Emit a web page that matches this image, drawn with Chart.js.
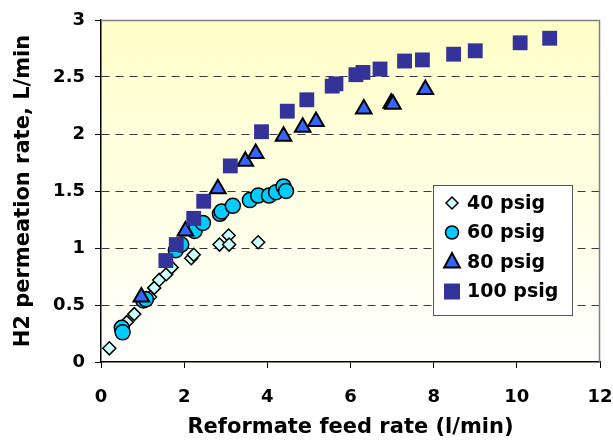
<!DOCTYPE html>
<html lang="en">
<head>
<meta charset="UTF-8">
<title>H2 permeation rate</title>
<script src="https://cdn.jsdelivr.net/npm/chart.js"></script>
<style>
  html, body { margin: 0; padding: 0; background: #fff; }
  #wrap { width: 613px; height: 440px; }
</style>
</head>
<body>
<div id="wrap"><canvas id="grafico" width="613" height="440"></canvas></div>
<script>
// data: [feed rate l/min, permeation L/min]
const seriesNames = ['40 psig', '60 psig', '80 psig', '100 psig'];

const psig40 = [
  [0.20, 0.12], [0.62, 0.35], [0.80, 0.42], [1.10, 0.56], [1.18, 0.57],
  [1.28, 0.65], [1.40, 0.72], [1.57, 0.77], [1.70, 0.83], [2.17, 0.91],
  [2.23, 0.94], [2.85, 1.03], [3.07, 1.11], [3.08, 1.03], [3.78, 1.05]
];
const psig60 = [
  [0.50, 0.30], [0.52, 0.26], [1.02, 0.54], [1.08, 0.55], [1.80, 0.98],
  [1.93, 1.03], [2.25, 1.15], [2.45, 1.22], [2.86, 1.30], [2.90, 1.32],
  [3.17, 1.37], [3.58, 1.42], [3.78, 1.46], [4.04, 1.46], [4.21, 1.49],
  [4.39, 1.54], [4.45, 1.50]
];
const psig80 = [
  [0.97, 0.57], [2.03, 1.15], [2.81, 1.52], [3.47, 1.76], [3.72, 1.83],
  [4.39, 1.98], [4.85, 2.06], [5.17, 2.11], [6.32, 2.22], [6.98, 2.27],
  [7.02, 2.26], [7.80, 2.39]
];
const psig100 = [
  [1.56, 0.89], [1.81, 1.03], [2.23, 1.26], [2.47, 1.41], [3.11, 1.72],
  [3.86, 2.02], [4.48, 2.20], [4.95, 2.30], [5.56, 2.42], [5.65, 2.44],
  [6.13, 2.52], [6.30, 2.54], [6.71, 2.57], [7.30, 2.64], [7.73, 2.65],
  [8.48, 2.70], [9.00, 2.73], [10.08, 2.80], [10.79, 2.84]
];

const xTicks = [0, 2, 4, 6, 8, 10, 12];
const yTicks = [0, 0.5, 1, 1.5, 2, 2.5, 3];

const fuente = 'DejaVu Sans';

function toPoints(arr) {
  return arr.map(p => ({ x: p[0], y: p[1] }));
}

// plot background: pale yellow fading to white + grey frame
const fondo = {
  id: 'fondo',
  beforeDraw(chart) {
    const { ctx, chartArea: a } = chart;
    const g = ctx.createLinearGradient(0, a.top, 0, a.bottom);
    g.addColorStop(0, '#FFFFC8');
    g.addColorStop(1, '#FFFFFF');
    ctx.save();
    ctx.fillStyle = g;
    ctx.fillRect(a.left, a.top, a.right - a.left, a.bottom - a.top);
    ctx.restore();
  },
  afterDatasetsDraw(chart) {
    const { ctx, chartArea: a } = chart;
    ctx.save();
    ctx.strokeStyle = '#808080';
    ctx.lineWidth = 1.5;
    ctx.beginPath();
    ctx.moveTo(a.left, a.top + 0.5);
    ctx.lineTo(a.right - 0.5, a.top + 0.5);
    ctx.lineTo(a.right - 0.5, a.bottom);
    ctx.stroke();
    ctx.restore();
  }
};

function drawShape(ctx, style, x, y, r) {
  if (style === 'circle') {
    ctx.arc(x, y, r, 0, Math.PI * 2);
  } else if (style === 'triangle') {
    ctx.moveTo(x, y - r);
    ctx.lineTo(x + r * 0.87, y + r * 0.6);
    ctx.lineTo(x - r * 0.87, y + r * 0.6);
    ctx.closePath();
  } else if (style === 'rectRot') {
    ctx.moveTo(x, y - r);
    ctx.lineTo(x + r, y);
    ctx.lineTo(x, y + r);
    ctx.lineTo(x - r, y);
    ctx.closePath();
  } else {
    ctx.rect(x - r, y - r, 2 * r, 2 * r);
  }
}

// boxed legend inside the plot
const leyenda = {
  id: 'leyenda',
  afterDraw(chart) {
    const { ctx } = chart;
    const box = { x: 433, y: 185, w: 139, h: 130 };
    ctx.save();
    ctx.fillStyle = '#FFFFFF';
    ctx.fillRect(box.x, box.y, box.w, box.h);
    ctx.strokeStyle = '#555555';
    ctx.lineWidth = 1;
    ctx.strokeRect(box.x + 0.5, box.y + 0.5, box.w, box.h);
    ctx.font = 'bold 19px ' + fuente;
    ctx.textBaseline = 'middle';
    chart.data.datasets.forEach((ds, i) => {
      const cy = box.y + 18 + i * 29.5;
      ctx.fillStyle = ds.backgroundColor;
      ctx.strokeStyle = ds.borderColor;
      ctx.lineWidth = ds.borderWidth;
      ctx.beginPath();
      drawShape(ctx, ds.pointStyle, box.x + 19, cy, ds.legendRadius);
      ctx.fill();
      if (ds.borderWidth > 0) ctx.stroke();
      ctx.fillStyle = '#000';
      ctx.fillText(ds.label, box.x + 34, cy + 1);
    });
    ctx.restore();
  }
};

const ctx = document.getElementById('grafico').getContext('2d');
const grafico = new Chart(ctx, {
  type: 'scatter',
  data: {
    datasets: [
      {
        label: seriesNames[0], data: toPoints(psig40), order: 4,
        pointStyle: 'rectRot', pointRadius: 6.5, legendRadius: 6,
        backgroundColor: '#CCFFFF', borderColor: '#000000', borderWidth: 1.5
      },
      {
        label: seriesNames[1], data: toPoints(psig60), order: 3,
        pointStyle: 'circle', pointRadius: 7.5, legendRadius: 6.5,
        backgroundColor: '#00CCFF', borderColor: '#000000', borderWidth: 1.5
      },
      {
        label: seriesNames[2], data: toPoints(psig80), order: 2,
        pointStyle: 'triangle', pointRadius: 9, legendRadius: 9,
        backgroundColor: '#3366FF', borderColor: '#000000', borderWidth: 2
      },
      {
        label: seriesNames[3], data: toPoints(psig100), order: 1,
        pointStyle: 'rect', pointRadius: 10.5, legendRadius: 8,
        backgroundColor: '#333399', borderColor: '#333399', borderWidth: 0
      }
    ]
  },
  options: {
    responsive: false,
    animation: false,
    layout: { padding: { left: 0, right: 13, top: 20, bottom: 0 } },
    plugins: {
      legend: { display: false },
      tooltip: { enabled: false }
    },
    scales: {
      x: {
        type: 'linear',
        min: 0, max: 12,
        afterBuildTicks: s => { s.ticks = xTicks.map(v => ({ value: v })); },
        afterFit: s => { s.height = 78; s.paddingLeft = 0; s.paddingRight = 0; },
        ticks: {
          color: '#000',
          font: { family: fuente, size: 18, weight: 'bold' },
          padding: 19,
          callback: v => String(v)
        },
        grid: {
          drawOnChartArea: false,
          tickLength: 6,
          tickColor: '#000'
        },
        border: { color: '#000', width: 1.5 },
        title: {
          display: true,
          text: 'Reformate feed rate (l/min)',
          color: '#000',
          font: { family: fuente, size: 21, weight: 'bold' },
          padding: { top: 6, bottom: 0 }
        }
      },
      y: {
        type: 'linear',
        min: 0, max: 3,
        afterBuildTicks: s => { s.ticks = yTicks.map(v => ({ value: v })); },
        afterFit: s => { s.width = 101; s.paddingTop = 0; s.paddingBottom = 0; },
        ticks: {
          color: '#000',
          font: { family: fuente, size: 18, weight: 'bold' },
          padding: 10,
          callback: v => String(v)
        },
        grid: {
          color: c => (c.tick.value === 0 || c.tick.value === 3) ? 'rgba(0,0,0,0)' : '#3a3a3a',
          lineWidth: 1,
          tickLength: 6,
          tickColor: '#000',
          tickBorderDash: []
        },
        border: { color: '#000', width: 1.5, dash: [8, 6] },
        title: {
          display: true,
          text: 'H2 permeation rate, L/min',
          color: '#000',
          font: { family: fuente, size: 21, weight: 'bold' },
          padding: { top: 11, bottom: 0 }
        }
      }
    }
  },
  plugins: [fondo, leyenda]
});
</script>
</body>
</html>
